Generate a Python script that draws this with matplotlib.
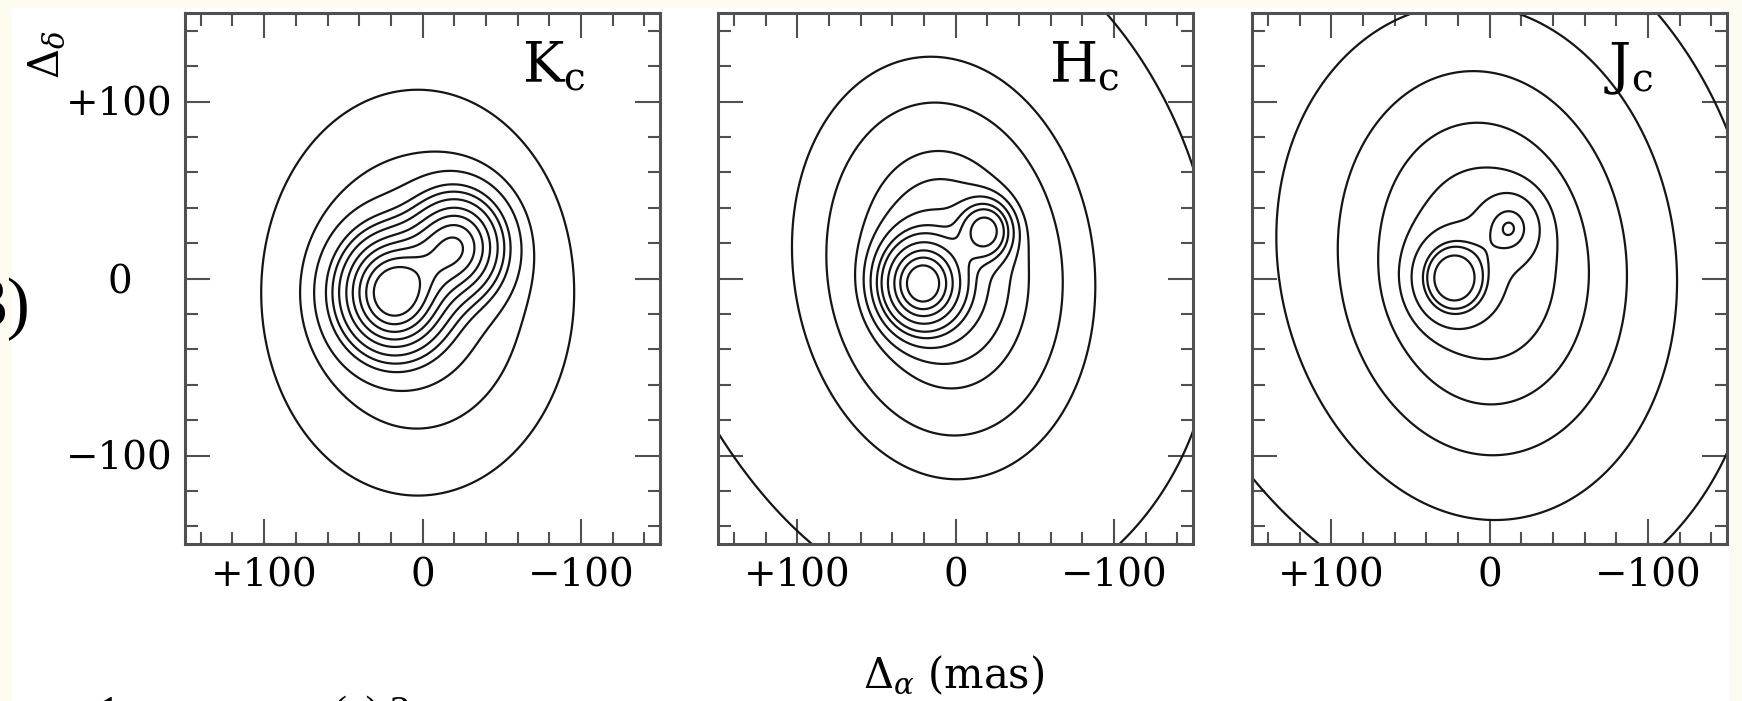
import numpy as np
import matplotlib
matplotlib.use("Agg")
import matplotlib.pyplot as plt
from matplotlib.patches import Rectangle

plt.rcParams["font.family"] = ["DejaVu Serif"]
plt.rcParams["mathtext.fontset"] = "dejavuserif"

# ---- axes / ticks (mas) ----
lim = 150
major_ticks = [100, 0, -100]
major_labels = ["+100", "0", "\u2212100"]
minor_ticks = [-140, -120, -80, -60, -40, -20, 20, 40, 60, 80, 120, 140]
band_labels = [r"$\mathrm{K_c}$", r"$\mathrm{H_c}$", r"$\mathrm{J_c}$"]

# ---- image components: centre (x0, y0), peak, widths along u / v, u-axis angle ----
# K: primary core, secondary core, halo
k_x0 = [18, -21, 3]
k_y0 = [-8, 18, -8]
k_amp = [1.0, 0.65, 0.09]
k_su = [19, 17, 56]
k_sv = [19, 17, 65]
k_ang = [0, 0, 0]
k_levels = [0.019, 0.045, 0.075, 0.13, 0.18, 0.25, 0.35, 0.46, 0.59, 0.73, 0.88]

# H: primary, secondary, halo, wings
h_x0 = [21, -19, 6, 20]
h_y0 = [-3, 27, 4, 20]
h_amp = [1.1, 0.5, 0.35, 0.05]
h_su = [15, 10, 50, 115]
h_sv = [15, 10, 65, 95]
h_ang = [0, 0, -8, 45]
h_levels = [0.012, 0.09, 0.155, 0.245, 0.30, 0.37, 0.46, 0.55, 0.70, 0.88, 1.06, 1.25]

# J: primary, secondary, halo, wings
j_x0 = [23, -13, 2, 25]
j_y0 = [0, 29, 8, 15]
j_amp = [0.9, 0.42, 0.36, 0.06]
j_su = [14, 12, 52, 115]
j_sv = [14, 12, 64, 100]
j_ang = [0, 0, -8, 45]
j_levels = [0.013, 0.05, 0.12, 0.21, 0.305, 0.45, 0.68, 0.79, 0.98]

bands = [
    (k_x0, k_y0, k_amp, k_su, k_sv, k_ang, k_levels),
    (h_x0, h_y0, h_amp, h_su, h_sv, h_ang, h_levels),
    (j_x0, j_y0, j_amp, j_su, j_sv, j_ang, j_levels),
]


def field(xx, yy, x0, y0, amp, su, sv, ang):
    img = np.zeros_like(xx, dtype=float)
    for cx, cy, a, s1, s2, t in zip(x0, y0, amp, su, sv, ang):
        t = np.radians(t)
        dx, dy = xx - cx, yy - cy
        u = dx * np.cos(t) + dy * np.sin(t)
        v = -dx * np.sin(t) + dy * np.cos(t)
        img += a * np.exp(-0.5 * ((u / s1) ** 2 + (v / s2) ** 2))
    return img


W, H = 1742, 701
fig = plt.figure(figsize=(W / 100, H / 100), dpi=100)
fig.patch.set_facecolor("#fdfaf0")
fig.add_artist(Rectangle((12 / W, 0), 1718 / W, 1 - 8 / H, transform=fig.transFigure,
                         facecolor="white", edgecolor="none", zorder=-5))

grid = np.linspace(-lim, lim, 601)
xx, yy = np.meshgrid(grid, grid)
lefts = [185, 718, 1252]
frame = "#505050"

for i, (x0, y0, amp, su, sv, ang, levels) in enumerate(bands):
    ax = fig.add_axes([lefts[i] / W, 1 - 544 / H, 475 / W, 531 / H])
    img = field(xx, yy, x0, y0, amp, su, sv, ang)
    ax.contour(grid, grid, img, levels=sorted(levels), colors="#151515", linewidths=1.6)
    ax.set_xlim(lim, -lim)
    ax.set_ylim(-lim, lim)

    ax.set_xticks(major_ticks)
    ax.set_xticklabels(major_labels)
    ax.set_xticks(minor_ticks, minor=True)
    ax.set_yticks(major_ticks)
    ax.set_yticklabels(major_labels)
    ax.set_yticks(minor_ticks, minor=True)
    ax.tick_params(which="both", direction="in", top=True, right=True,
                   color=frame, width=1.5)
    ax.tick_params(which="major", length=18)
    ax.tick_params(which="minor", length=9)
    ax.tick_params(axis="x", labelsize=28, pad=10)
    if i == 0:
        ax.tick_params(axis="y", labelsize=28, pad=47)
        plt.setp(ax.get_yticklabels(), ha="center")
    else:
        ax.tick_params(axis="y", labelleft=False)
    for s in ax.spines.values():
        s.set_linewidth(2.2)
        s.set_color(frame)

    ax.text(0.845, 0.868, band_labels[i], transform=ax.transAxes,
            ha="right", va="baseline", fontsize=40)

fig.text(954 / W, 1 - 688 / H, r"$\Delta_\alpha$ (mas)", ha="center", va="baseline", fontsize=30)
fig.text(46 / W, 1 - 55 / H, r"$\Delta_\delta$", rotation=90, ha="center", va="center", fontsize=30)
fig.text(30 / W, 1 - 326 / H, "3)", ha="right", va="baseline", fontsize=50,
         family="Liberation Serif")
# caption line running off the bottom edge (only the tops of the glyphs show)
fig.text(98 / W, 1 - 725 / H, "1", ha="left", va="baseline", fontsize=30,
         family="Liberation Serif")
fig.text(333 / W, 1 - 725 / H, "(a) 2", ha="left", va="baseline", fontsize=30,
         family="Liberation Serif")

fig.savefig("out.png", dpi=100, facecolor=fig.get_facecolor())
